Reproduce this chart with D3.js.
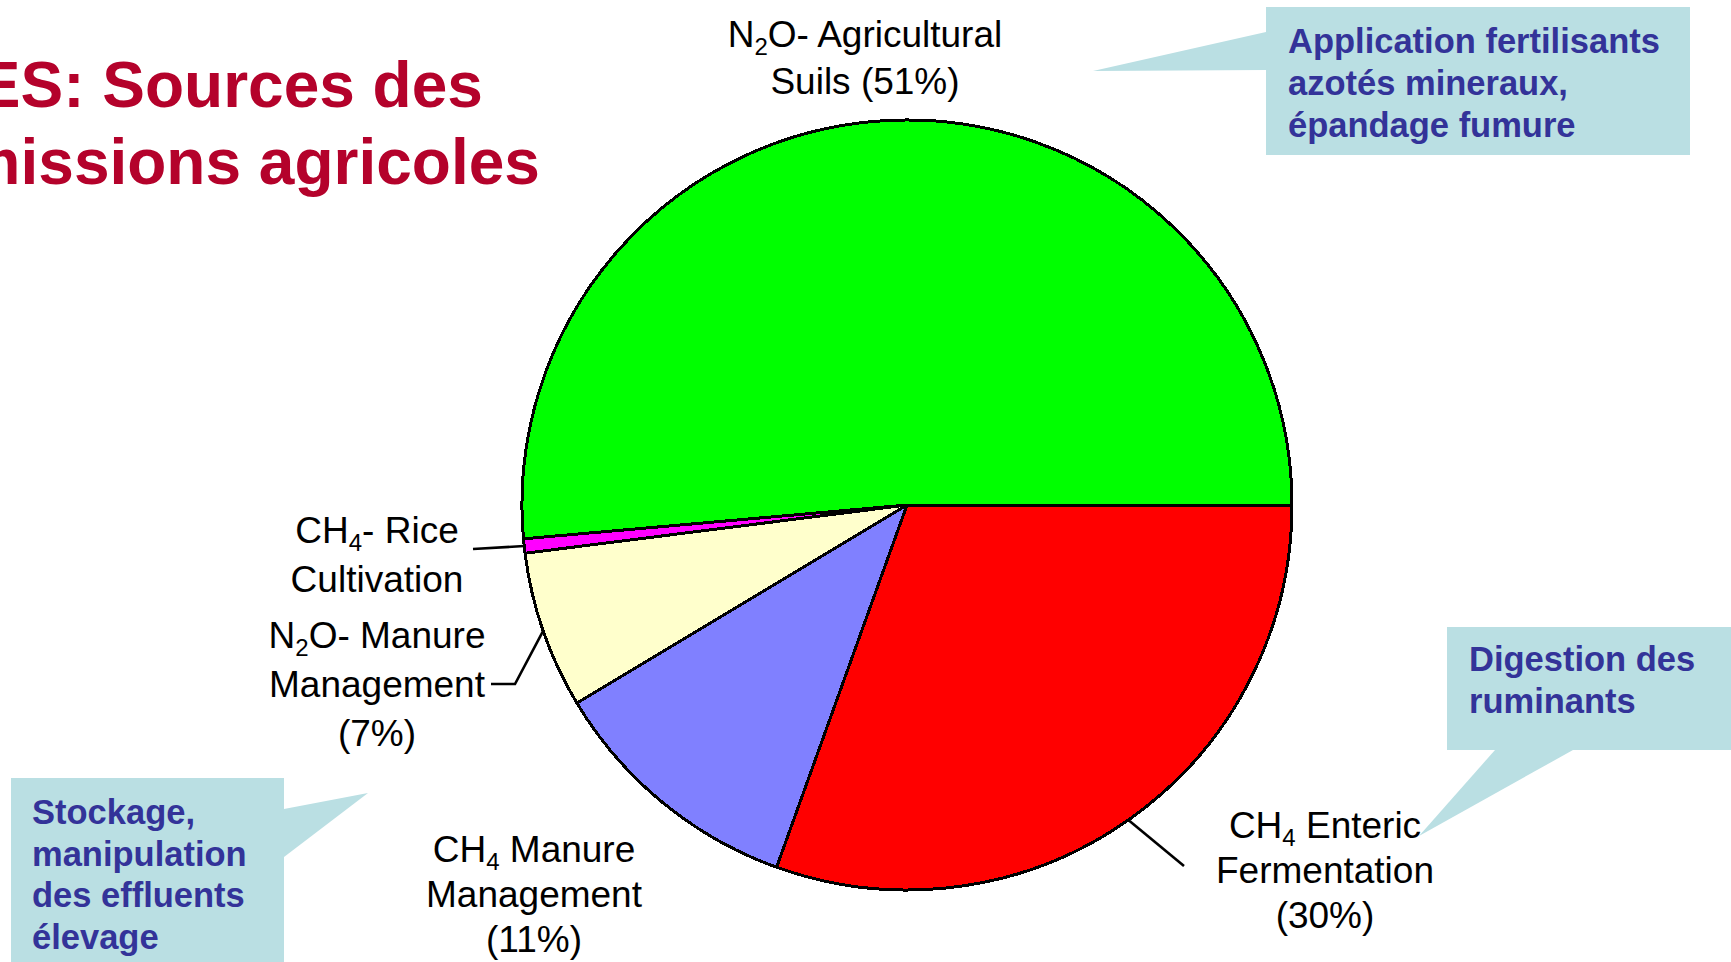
<!DOCTYPE html>
<html>
<head>
<meta charset="utf-8">
<script src="https://cdn.jsdelivr.net/npm/d3@7"></script>
<style>
    body { margin:0; background:#fff; overflow:hidden }
    svg { display:block }
</style>
</head>
<body>
<div id="view"></div>
<script>
// slices, clockwise from 3 o'clock
var categories  = ['CH_4 Enteric Fermentation', 'CH_4 Manure Management', 'N_2O- Manure Management', 'CH_4- Rice Cultivation', 'N_2O- Agricultural Soils']
var shares      = [30.5, 10.9, 6.6, 0.6, 51.4]
var shareLabels = ['30%', '11%', '7%', '', '51%']
// label text, one entry per line
var labelLines  = [
    ['CH_4 Enteric', 'Fermentation', '(30%)'],
    ['CH_4 Manure', 'Management', '(11%)'],
    ['N_2O- Manure', 'Management', '(7%)'],
    ['CH_4- Rice', 'Cultivation'],
    ['N_2O- Agricultural', 'Suils (51%)']
]
var titleLines   = ['GES: Sources des', 'émissions agricoles']
var calloutLines = [
    ['Application fertilisants', 'azotés mineraux,', 'épandage fumure'],
    ['Digestion des', 'ruminants'],
    ['Stockage,', 'manipulation', 'des effluents', 'élevage']
]

var sliceColors = ['#ff0000', '#8080ff', '#ffffcc', '#ff00ff', '#00ff00']

var W = 1731, H = 962
var cx = 907, cy = 505, R = 385
var labelFont = '"Liberation Sans", Arial, sans-serif'

// where each label sits: centre x, first baseline, line step
var labelPos = [
    { x:1325, y:838, lh:45 },
    { x:534,  y:862, lh:45 },
    { x:377,  y:648, lh:49 },
    { x:377,  y:543, lh:49 },
    { x:865,  y:47,  lh:47 }
]
// leader lines start on the rim at the slice's middle angle, then go through these points
var leaders = [
    [[1184, 866]],
    null,
    [[515, 684], [491, 684]],
    [[473, 549]],
    null
]

var callouts = [
    { box:[1266, 7, 424, 148],  wedge:[[1266, 32], [1093, 71], [1266, 70]],   tx:1288, ty:53,  lh:42 },
    { box:[1447, 627, 290, 123], wedge:[[1495, 750], [1419, 836], [1573, 750]], tx:1469, ty:671, lh:42 },
    { box:[11, 778, 273, 190],  wedge:[[284, 809], [368, 793], [284, 857]],   tx:32,   ty:824, lh:41.5 }
]

var svg = d3.select('#view').append('svg')
    .attr('width', W)
    .attr('height', H)

// title, partly off the left edge like the slide crop
var title = svg.append('g')
title.selectAll('text')
    .data(titleLines)
    .join('text')
    .attr('x', -72)
    .attr('y', (d, i)=> 107 + i*77)
    .attr('font-family', '"Liberation Sans", Arial, sans-serif')
    .attr('font-weight', 'bold')
    .attr('font-size', 64)
    .attr('fill', '#b4022b')
    .text(d=> d)

// callouts
var cg = svg.append('g').attr('class', 'callouts')
callouts.forEach((c, i)=> {
    var g = cg.append('g')
    g.append('polygon')
        .attr('points', c.wedge.map(p=> p.join(',')).join(' '))
        .attr('fill', '#badfe3')
    g.append('rect')
        .attr('x', c.box[0]).attr('y', c.box[1])
        .attr('width', c.box[2]).attr('height', c.box[3])
        .attr('fill', '#badfe3')
    g.selectAll('text')
        .data(calloutLines[i])
        .join('text')
        .attr('x', c.tx)
        .attr('y', (d, j)=> c.ty + j*c.lh)
        .attr('font-family', '"Liberation Sans", Arial, sans-serif')
        .attr('font-weight', 'bold')
        .attr('font-size', 34.5)
        .attr('fill', '#333399')
        .text(d=> d)
})

// pie
var pie = d3.pie()
    .sort(null)
    .startAngle(Math.PI/2)
    .endAngle(Math.PI/2 + 2*Math.PI)
    .value(d=> d)
var arc = d3.arc().innerRadius(0).outerRadius(R)
var arcs = pie(shares)

var pg = svg.append('g')
    .attr('transform', 'translate(' + cx + ',' + cy + ')')
pg.selectAll('path')
    .data(arcs)
    .join('path')
    .attr('d', arc)
    .attr('fill', (d, i)=> sliceColors[i])
    .attr('stroke', '#000')
    .attr('stroke-width', 3)
    .attr('stroke-linejoin', 'round')
    .attr('shape-rendering', 'crispEdges')

// leaders
var rim = a=> [cx + R*Math.sin(a), cy - R*Math.cos(a)]
arcs.forEach((d, i)=> {
    if (!leaders[i]) return
    var pts = [rim((d.startAngle + d.endAngle)/2)].concat(leaders[i])
    svg.append('polyline')
        .attr('points', pts.map(p=> p.join(',')).join(' '))
        .attr('fill', 'none')
        .attr('stroke', '#000')
        .attr('stroke-width', 2.6)
})

// labels, "_" marks a one-character subscript
function addLine(g, str, x, y) {
    var t = g.append('text')
        .attr('x', x).attr('y', y)
        .attr('text-anchor', 'middle')
        .attr('font-family', labelFont)
        .attr('font-size', 37)
        .attr('fill', '#000')
    var parts = str.split('_')
    t.append('tspan').text(parts[0])
    parts.slice(1).forEach(p=> {
        t.append('tspan').attr('dy', 8).attr('font-size', 24).text(p[0])
        t.append('tspan').attr('dy', -8).text(p.slice(1))
    })
}
var lg = svg.append('g').attr('class', 'labels')
labelLines.forEach((lines, i)=> {
    var p = labelPos[i]
    lines.forEach((s, j)=> addLine(lg, s, p.x, p.y + j*p.lh))
})
</script>
</body>
</html>
